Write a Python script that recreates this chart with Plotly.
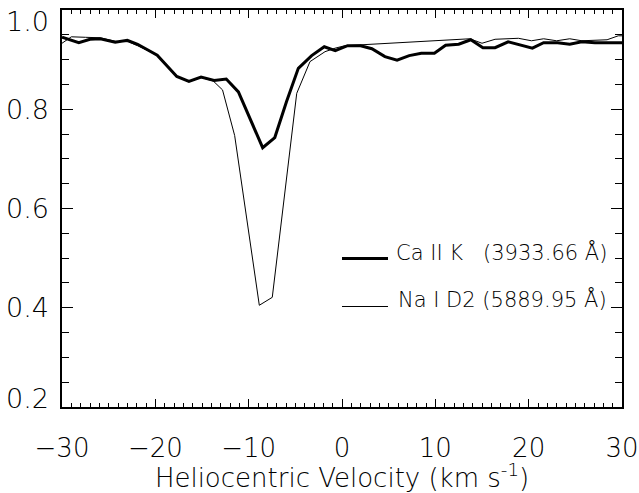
import plotly.graph_objects as go

# Ca II K (thick)
ca_v = [-30.0, -28.2, -27.0, -25.9, -24.3, -23.0, -21.9, -19.8, -17.7, -16.4, -15.1, -13.7,
        -12.4, -11.1, -8.5, -7.2, -5.95, -4.68, -3.25, -1.9, -0.72, 0.6, 2.0, 3.2, 4.6,
        5.9, 7.2, 8.5, 9.9, 11.1, 12.5, 13.8, 15.1, 16.4, 17.8, 19.1, 20.4, 21.6, 23.1,
        24.4, 25.7, 27.1, 28.4, 30.0]
ca_f = [0.945, 0.934, 0.941, 0.942, 0.935, 0.939, 0.931, 0.909, 0.866, 0.856, 0.865, 0.858,
        0.861, 0.835, 0.7225, 0.743, 0.815, 0.8825, 0.908, 0.926, 0.918, 0.928, 0.928, 0.922, 0.906,
        0.899, 0.908, 0.913, 0.913, 0.929, 0.931, 0.940, 0.924, 0.924, 0.936, 0.929, 0.923, 0.934, 0.934,
        0.931, 0.936, 0.934, 0.934, 0.934]

# Na I D2 (thin)
na_v = [-30.0, -29.0, -27.5, -25.9, -24.3, -22.9, -21.9, -19.8, -17.7, -16.4, -15.1, -13.8,
        -12.8, -11.5, -8.86, -7.47, -4.85, -3.43, -1.82, -0.75, 0.3, 13.7, 15.0, 16.4, 18.9,
        20.3, 21.6, 23.0, 24.4, 25.7, 28.4, 29.6, 30.0]
na_f = [0.933, 0.946, 0.945, 0.944, 0.937, 0.936, 0.928, 0.909, 0.866, 0.856, 0.864, 0.857,
        0.839, 0.747, 0.405, 0.421, 0.832, 0.896, 0.916, 0.923, 0.928, 0.942, 0.933, 0.941, 0.943,
        0.938, 0.942, 0.938, 0.942, 0.938, 0.940, 0.948, 0.948]

x_ticks = [-30, -20, -10, 0, 10, 20, 30]
y_ticks = [0.2, 0.4, 0.6, 0.8, 1.0]
legend_labels = ["Ca II K   (3933.66 Å)", "Na I D2 (5889.95 Å)"]

FONT = "DejaVu Sans"
WT = 200
W, H = 639, 493
L, R, T, B = 62, 17, 10, 86

fig = go.Figure()
fig.add_trace(go.Scatter(x=ca_v, y=ca_f, mode="lines", line=dict(color="black", width=3),
                         showlegend=False))
fig.add_trace(go.Scatter(x=na_v, y=na_f, mode="lines", line=dict(color="black", width=1),
                         showlegend=False))

pw, ph = W - L - R, H - T - B
def px(xp):
    return (xp - L) / pw
def py(yp):
    return 1 - (yp - T) / ph

# legend drawn by hand
leg_rows = [(258.5, 3, 253), (306.5, 1, 299)]
for (ly, lw, ty), lab in zip(leg_rows, legend_labels):
    fig.add_shape(type="line", xref="paper", yref="paper", x0=px(342), x1=px(388),
                  y0=py(ly), y1=py(ly), line=dict(color="black", width=lw))
    fig.add_annotation(xref="paper", yref="paper", x=px(609), y=py(ty), text=lab,
                       showarrow=False, xanchor="right", yanchor="middle",
                       font=dict(family=FONT, size=21, color="#000000", weight=WT))

# y tick labels: end labels are nudged inside the frame as in the original
y_label_pos = {0.2: 398, 0.4: 307.7, 0.6: 208.5, 0.8: 109.3, 1.0: 22}
for v in y_ticks:
    fig.add_annotation(xref="paper", yref="paper", x=px(51), y=py(y_label_pos[v]),
                       text=f"{v:.1f}", showarrow=False, xanchor="right", yanchor="middle",
                       font=dict(family=FONT, size=27, color="black", weight=WT))

axis_common = dict(showline=True, linecolor="black", linewidth=1.5, mirror="allticks",
                   ticks="inside", tickcolor="black", tickwidth=1, showgrid=False,
                   zeroline=False, automargin=False, ticklabeloverflow="allow")

fig.update_xaxes(range=[-30, 30], tickvals=x_ticks, ticklen=8,
                 minor=dict(dtick=1, ticks="inside", ticklen=4, tickcolor="black", tickwidth=1),
                 tickfont=dict(family=FONT, size=26, color="black", weight=WT),
                 ticklabelstandoff=17,
                 title=dict(text="Heliocentric Velocity (km s<sup>-1</sup>)", standoff=16,
                            font=dict(family=FONT, size=26, color="black", weight=WT)),
                 **axis_common)
fig.update_yaxes(range=[0.2, 1.0], tickvals=y_ticks, showticklabels=False, ticklen=11,
                 minor=dict(dtick=0.05, ticks="inside", ticklen=7, tickcolor="black", tickwidth=1),
                 **axis_common)

fig.update_layout(width=W, height=H, margin=dict(l=L, r=R, t=T, b=B),
                  paper_bgcolor="white", plot_bgcolor="white")

fig.write_html("out.html")
